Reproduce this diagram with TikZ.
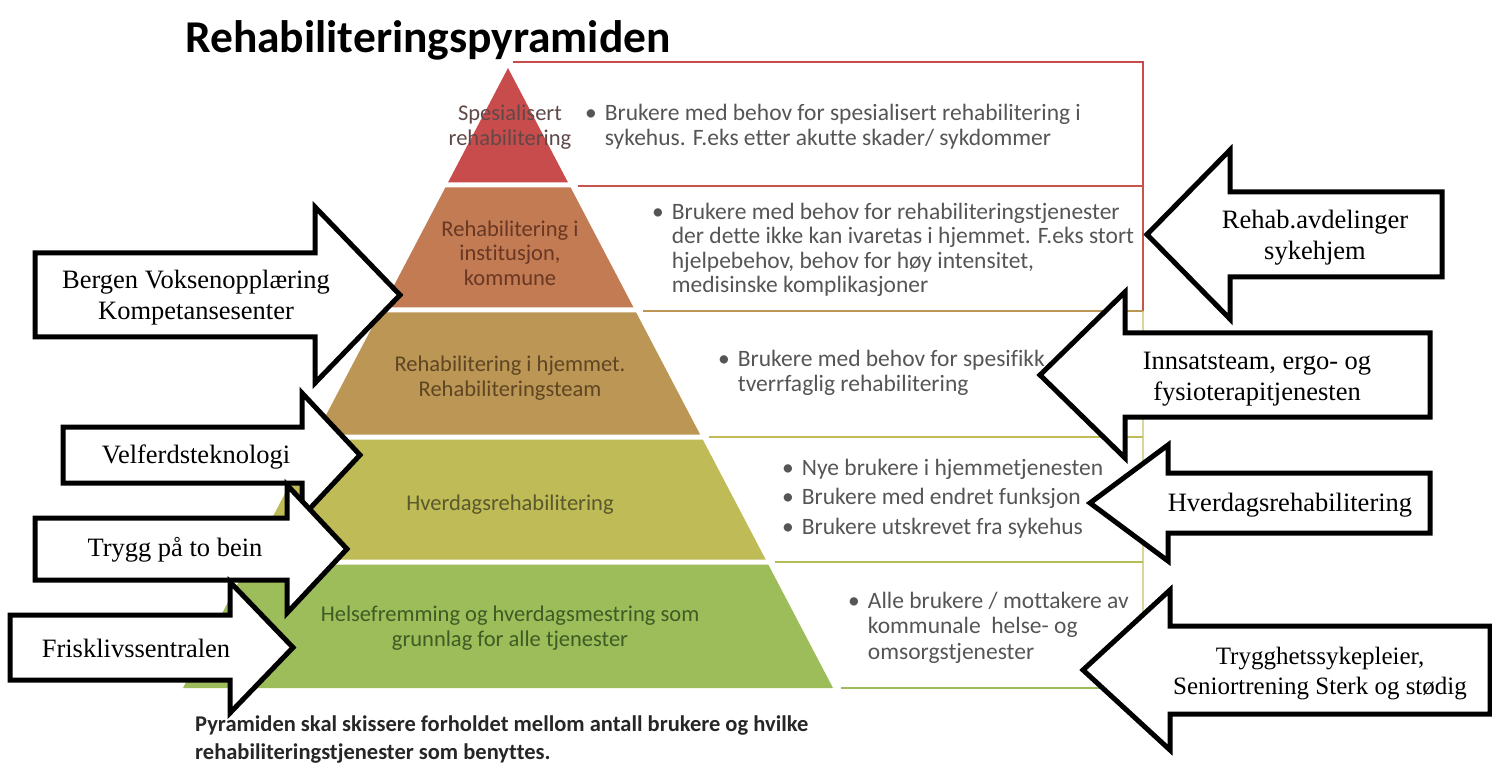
\documentclass[tikz,border=0pt]{standalone}
\usepackage{fontspec}
\setmainfont{Liberation Serif}
\newfontfamily\calibri[Ligatures=NoCommon]{Carlito}

\definecolor{bandred}{RGB}{201,76,76}
\definecolor{bandbrown}{RGB}{194,123,82}
\definecolor{bandtan}{RGB}{187,150,84}
\definecolor{bandolive}{RGB}{191,187,86}
\definecolor{bandgreen}{RGB}{157,188,90}
\definecolor{sidegray}{RGB}{85,85,85}
\definecolor{redlabel}{RGB}{95,72,72}
\definecolor{brownlabel}{RGB}{105,55,35}
\definecolor{tanlabel}{RGB}{95,70,35}
\definecolor{olivelabel}{RGB}{90,88,45}
\definecolor{greenlabel}{RGB}{62,92,35}

\tikzset{
  bigarrow/.style={draw=black, fill=white, line width=5pt, miter limit=20},
  arrowtext/.style={align=center, inner sep=0pt, font=\fontsize{26.5}{31}\selectfont},
  bandlabel/.style={align=center, inner sep=0pt, font=\calibri\fontsize{22.5}{24.5}\selectfont},
  sidetext/.style={anchor=west, inner sep=0pt, text=sidegray, font=\calibri\fontsize{23.5}{24.3}\selectfont},
  rowline/.style={line width=2pt},
}

\begin{document}
\begin{tikzpicture}[x=1pt, y=-1pt]
    \useasboundingbox (0,0) rectangle (1492,767);

    % pyramid bands
    \foreach \top/\bot/\col in {68/182.5/bandred, 187.5/307.5/bandbrown, 312.5/434.5/bandtan,
                                439.5/559.5/bandolive, 564.5/688/bandgreen} {
        \pgfmathsetmacro\wtop{0.5242*(\top-68)}
        \pgfmathsetmacro\wbot{0.5242*(\bot-68)}
        \fill[\col] ({508-\wtop},\top) -- ({508+\wtop},\top)
            -- ({508+\wbot},\bot) -- ({508-\wbot},\bot) -- cycle;
    }

    % table frame on the right
    \draw[rowline, bandred] (513,62) -- (1143,62) -- (1143,186);
    \draw[rowline, bandred!80!bandbrown] (1143,186) -- (1143,311);
    \draw[rowline, bandolive!60] (1143,311) -- (1143,688);
    \foreach \y/\col in {186/bandred!80!bandbrown, 311/bandtan, 437/bandolive, 562/bandolive!70!bandgreen, 688/bandgreen} {
        \pgfmathsetmacro\xs{516+0.5242*(\y-68)}
        \draw[rowline, \col] (\xs,\y) -- (1143,\y);
    }

    % labels in the pyramid
    \node[bandlabel, text=redlabel] (spes) at (510,127) {Spesialisert\\rehabilitering};
    \node[bandlabel, text=brownlabel] (inst) at (510,253) {Rehabilitering i\\institusjon,\\kommune};
    \node[bandlabel, text=tanlabel] (hjem) at (510,378) {Rehabilitering i hjemmet.\\Rehabiliteringsteam};
    \node[bandlabel, text=olivelabel] (hverdag) at (510,505) {Hverdagsrehabilitering};
    \node[bandlabel, text=greenlabel] (helse) at (510,628) {Helsefremming og hverdagsmestring som\\grunnlag for alle tjenester};

    % texts to the right of the pyramid
    \node[sidetext] (brukspes) at (585,128) {\begin{tabular}{@{}l@{\hspace{8pt}}l@{}}
        \textbullet & Brukere med behov for spesialisert rehabilitering i\\
                    & sykehus. F.eks etter akutte skader/ sykdommer\end{tabular}};
    \node[sidetext] (bruksinst) at (652,251) {\begin{tabular}{@{}l@{\hspace{8pt}}l@{}}
        \textbullet & Brukere med behov for rehabiliteringstjenester\\
                    & der dette ikke kan ivaretas i hjemmet. F.eks stort\\
                    & hjelpebehov, behov for høy intensitet,\\
                    & medisinske komplikasjoner\end{tabular}};
    \node[sidetext] (brukhjem) at (718,374) {\begin{tabular}{@{}l@{\hspace{8pt}}l@{}}
        \textbullet & Brukere med behov for spesifikk\\
                    & tverrfaglig rehabilitering\end{tabular}};
    \node[sidetext] (brukhverdag) at (782,500) {\begin{tabular}{@{}l@{\hspace{8pt}}l@{}}
        \textbullet & Nye brukere i hjemmetjenesten\\[5pt]
        \textbullet & Brukere med endret funksjon\\[5pt]
        \textbullet & Brukere utskrevet fra sykehus\end{tabular}};
    \node[sidetext] (brukalle) at (848,629) {\begin{tabular}{@{}l@{\hspace{8pt}}l@{}}
        \textbullet & Alle brukere / mottakere av\\[1pt]
                    & kommunale\ \ helse- og\\[1pt]
                    & omsorgstjenester\end{tabular}};

    % title and caption
    \node[anchor=base west, inner sep=0pt, font=\calibri\bfseries\fontsize{45.5}{50}\selectfont] (title) at (185,53) {Rehabiliteringspyramiden};
    \node[anchor=north west, align=left, inner sep=0pt, text=black!85, font=\calibri\bfseries\fontsize{22.5}{28}\selectfont] (caption) at (195,716)
        {Pyramiden skal skissere forholdet mellom antall brukere og hvilke\\rehabiliteringstjenester som benyttes.};

    % arrows from the left
    \draw[bigarrow] (35,253) -- (315,253) -- (315,207) -- (400,295) -- (315,383) -- (315,337) -- (35,337) -- cycle;
    \draw[bigarrow] (63,427) -- (302,427) -- (302,393) -- (360,455) -- (302,517) -- (302,483) -- (63,483) -- cycle;
    \draw[bigarrow] (35,518) -- (287,518) -- (287,485) -- (347,549) -- (287,613) -- (287,580) -- (35,580) -- cycle;
    \draw[bigarrow] (10,615) -- (230,615) -- (230,582) -- (293,647.5) -- (230,713) -- (230,680) -- (10,680) -- cycle;
    \node[arrowtext] (bergen) at (196,298) {Bergen Voksenopplæring\\Kompetansesenter};
    \node[arrowtext] (velferd) at (196,457) {Velferdsteknologi};
    \node[arrowtext] (trygg) at (175,550) {Trygg på to bein};
    \node[arrowtext] (frisk) at (136,648) {Frisklivssentralen};

    % arrows from the right
    \draw[bigarrow] (1442,192) -- (1230,192) -- (1230,150) -- (1147,234.5) -- (1230,319) -- (1230,277) -- (1442,277) -- cycle;
    \draw[bigarrow] (1430,333) -- (1125,333) -- (1125,292) -- (1040,375) -- (1125,458) -- (1125,417) -- (1430,417) -- cycle;
    \draw[bigarrow] (1430,473) -- (1168,473) -- (1168,445) -- (1090,503) -- (1168,561) -- (1168,533) -- (1430,533) -- cycle;
    \draw[bigarrow] (1490,626) -- (1170,626) -- (1170,590) -- (1083,670) -- (1170,750) -- (1170,714) -- (1490,714) -- cycle;
    \node[arrowtext] (rehabavd) at (1315,238) {Rehab.avdelinger\\sykehjem};
    \node[arrowtext] (innsats) at (1257,379) {Innsatsteam, ergo- og\\fysioterapitjenesten};
    \node[arrowtext] (hverdagr) at (1290,505) {Hverdagsrehabilitering};
    \node[arrowtext, font=\fontsize{25}{30}\selectfont] (tryggh) at (1320,674) {Trygghetssykepleier,\\Seniortrening Sterk og stødig};
\end{tikzpicture}
\end{document}
